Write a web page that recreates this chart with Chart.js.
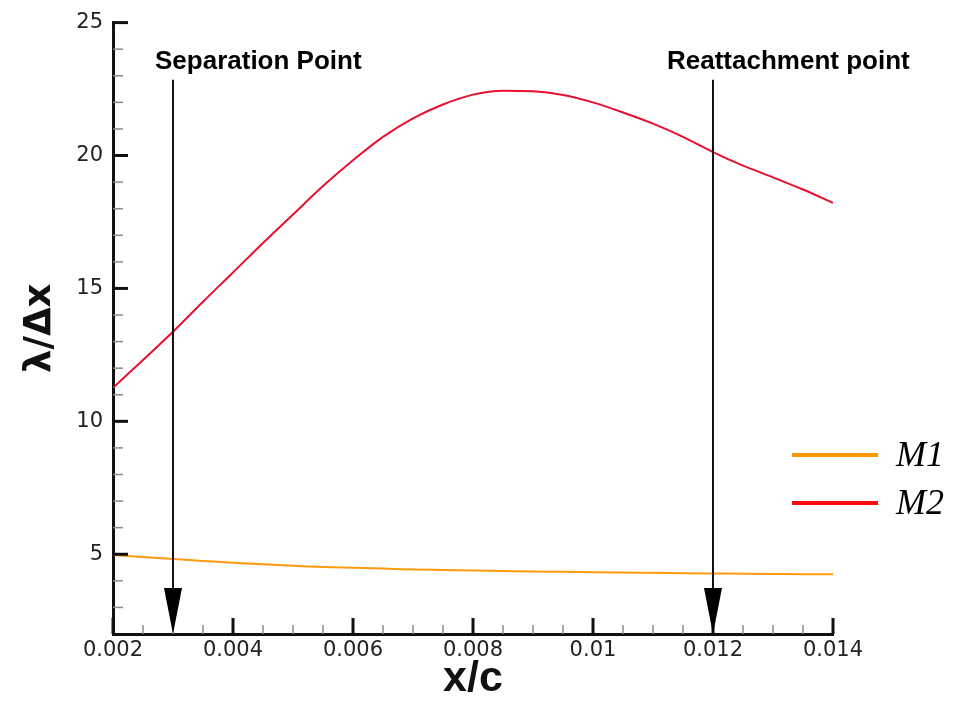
<!DOCTYPE html>
<html>
<head>
<meta charset="utf-8">
<script src="https://cdn.jsdelivr.net/npm/chart.js@4.4.1/dist/chart.umd.min.js"></script>
<style>
  html, body { margin: 0; padding: 0; background: #fff; }
  canvas { display: block; }
</style>
</head>
<body>
<canvas id="chartCanvas" width="963" height="701"></canvas>
<script>
// x/c stations along the surface
const xValues = [0.002, 0.0025, 0.003, 0.0035, 0.004, 0.0045, 0.005, 0.0055, 0.006, 0.0065,
  0.007, 0.0075, 0.008, 0.0085, 0.009, 0.0095, 0.010, 0.0105, 0.011, 0.0115,
  0.012, 0.0125, 0.013, 0.0135, 0.014];

// wavelength / grid spacing for each mesh
const m1Values = [4.97, 4.90, 4.82, 4.75, 4.68, 4.62, 4.57, 4.52, 4.49, 4.46,
  4.43, 4.41, 4.39, 4.37, 4.35, 4.34, 4.32, 4.31, 4.30, 4.29,
  4.28, 4.27, 4.26, 4.25, 4.25];
const m2Values = [11.26, 12.31, 13.37, 14.50, 15.60, 16.71, 17.78, 18.85, 19.82, 20.70,
  21.40, 21.92, 22.29, 22.44, 22.42, 22.28, 22.00, 21.62, 21.20, 20.70,
  20.13, 19.62, 19.18, 18.72, 18.22];

const seriesNames = ['M1', 'M2'];

const xTickValues = [0.002, 0.004, 0.006, 0.008, 0.01, 0.012, 0.014];
const xTickLabels = ['0.002', '0.004', '0.006', '0.008', '0.01', '0.012', '0.014'];
const yTickValues = [5, 10, 15, 20, 25];

// separation / reattachment markers
const arrowX = [0.003, 0.012];
const arrowLabels = ['Separation Point', 'Reattachment point'];
const arrowTop = 22.85;

function toPoints(values) {
  return xValues.map((x, i) => ({ x: x, y: values[i] }));
}

// ticks drawn on the inside of the axes, majors + minors
const axisTicks = {
  id: 'axisTicks',
  afterDraw(chart) {
    const ctx = chart.ctx;
    const xs = chart.scales.x;
    const ys = chart.scales.y;
    const left = chart.chartArea.left;
    const bottom = chart.chartArea.bottom;
    ctx.save();

    // minors first
    ctx.lineWidth = 1.5;
    ctx.strokeStyle = '#8a8a8a';
    for (let i = 1; i * 0.0005 + 0.002 < 0.014 + 1e-9; i++) {
      if (i % 4 === 0) continue;
      const px = xs.getPixelForValue(0.002 + i * 0.0005);
      ctx.beginPath();
      ctx.moveTo(px, bottom);
      ctx.lineTo(px, bottom - 9);
      ctx.stroke();
    }
    for (let v = 3; v < 25; v++) {
      if (v % 5 === 0) continue;
      const py = ys.getPixelForValue(v);
      ctx.beginPath();
      ctx.moveTo(left, py);
      ctx.lineTo(left + 10, py);
      ctx.stroke();
    }

    ctx.lineWidth = 3;
    ctx.strokeStyle = '#111';
    xTickValues.forEach(v => {
      const px = xs.getPixelForValue(v);
      ctx.beginPath();
      ctx.moveTo(px, bottom);
      ctx.lineTo(px, bottom - 16);
      ctx.stroke();
    });
    yTickValues.forEach(v => {
      const py = ys.getPixelForValue(v);
      ctx.beginPath();
      ctx.moveTo(left, py);
      ctx.lineTo(left + 15, py);
      ctx.stroke();
    });
    ctx.restore();
  }
};

// vertical arrows with bold captions
const arrowMarks = {
  id: 'arrowMarks',
  afterDraw(chart) {
    const ctx = chart.ctx;
    const xs = chart.scales.x;
    const ys = chart.scales.y;
    const bottom = ys.getPixelForValue(ys.min);
    const top = ys.getPixelForValue(arrowTop);
    const labelShift = [-18, -46];
    ctx.save();
    arrowX.forEach((v, i) => {
      const px = xs.getPixelForValue(v);
      ctx.strokeStyle = '#111';
      ctx.lineWidth = 2;
      ctx.beginPath();
      ctx.moveTo(px, top);
      ctx.lineTo(px, bottom - 40);
      ctx.stroke();
      ctx.fillStyle = '#000';
      ctx.beginPath();
      ctx.moveTo(px - 9, bottom - 46);
      ctx.lineTo(px + 9, bottom - 46);
      ctx.lineTo(px, bottom);
      ctx.closePath();
      ctx.fill();

      ctx.font = 'bold 26px "Liberation Sans", Arial, sans-serif';
      ctx.textAlign = 'left';
      ctx.textBaseline = 'alphabetic';
      ctx.fillText(arrowLabels[i], px + labelShift[i], top - 11);
    });
    ctx.restore();
  }
};

// line legend on the right side
const sideLegend = {
  id: 'sideLegend',
  afterDraw(chart) {
    const ctx = chart.ctx;
    ctx.save();
    chart.data.datasets.forEach((ds, i) => {
      const y = 455 + i * 48;
      ctx.strokeStyle = ds.legendColor;
      ctx.lineWidth = 4;
      ctx.beginPath();
      ctx.moveTo(792, y);
      ctx.lineTo(878, y);
      ctx.stroke();
      ctx.fillStyle = '#000';
      ctx.font = 'italic 36px "Liberation Serif", "Times New Roman", serif';
      ctx.textAlign = 'left';
      ctx.textBaseline = 'middle';
      ctx.fillText(ds.label, 896, y + 2);
    });
    ctx.restore();
  }
};

const ctx = document.getElementById('chartCanvas').getContext('2d');
window.chart1 = new Chart(ctx, {
  type: 'line',
  data: {
    datasets: [
      {
        label: seriesNames[0],
        data: toPoints(m1Values),
        borderColor: '#ff9a10',
        legendColor: '#ff9900',
        borderWidth: 2,
        pointRadius: 0,
        cubicInterpolationMode: 'monotone'
      },
      {
        label: seriesNames[1],
        data: toPoints(m2Values),
        borderColor: '#e8102e',
        legendColor: '#ff0a0a',
        borderWidth: 2,
        pointRadius: 0,
        cubicInterpolationMode: 'monotone'
      }
    ]
  },
  options: {
    responsive: false,
    animation: false,
    layout: { padding: { top: 19, right: 130, bottom: 0, left: 0 } },
    plugins: {
      legend: { display: false },
      tooltip: { enabled: false }
    },
    scales: {
      x: {
        type: 'linear',
        min: 0.002,
        max: 0.014,
        afterBuildTicks: scale => { scale.ticks = xTickValues.map(v => ({ value: v })); },
        afterFit: scale => { scale.height = 67; },
        grid: { display: false, drawTicks: false },
        border: { display: true, color: '#111', width: 3 },
        ticks: {
          padding: 4,
          color: '#222',
          autoSkip: false,
          maxRotation: 0,
          font: { family: '"DejaVu Sans", sans-serif', size: 21 },
          callback: (v) => xTickLabels[xTickValues.findIndex(t => Math.abs(t - v) < 1e-9)]
        },
        title: {
          display: true,
          text: 'x/c',
          color: '#111',
          padding: { top: 0, bottom: 0 },
          font: { family: '"Liberation Sans", Arial, sans-serif', size: 43, weight: 'bold', lineHeight: 1 }
        }
      },
      y: {
        min: 2,
        max: 25,
        afterBuildTicks: scale => { scale.ticks = yTickValues.map(v => ({ value: v })); },
        afterFit: scale => { scale.width = 113; },
        grid: { display: false, drawTicks: false },
        border: { display: true, color: '#111', width: 3 },
        ticks: {
          padding: 10,
          color: '#222',
          font: { family: '"DejaVu Sans", sans-serif', size: 21 }
        },
        title: {
          display: true,
          text: 'λ/Δx',
          color: '#111',
          padding: { top: 18, bottom: 0 },
          font: { family: '"DejaVu Sans", sans-serif', size: 37, weight: 'bold' }
        }
      }
    }
  },
  plugins: [axisTicks, arrowMarks, sideLegend]
});
</script>
</body>
</html>
